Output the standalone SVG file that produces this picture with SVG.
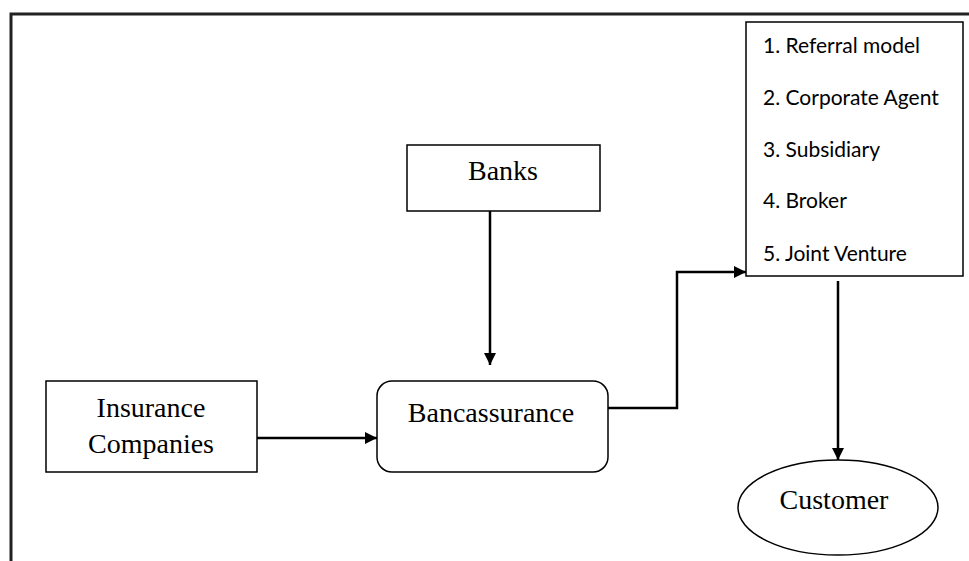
<svg xmlns="http://www.w3.org/2000/svg" width="969" height="561" viewBox="0 0 969 561">
<style>
.box{fill:#fff;stroke:#000;stroke-width:1.5}
.t{font-family:"Liberation Serif","Times New Roman",serif;font-size:28px;fill:#000;text-anchor:middle}
.l{font-family:Lato,"Liberation Sans",sans-serif;font-size:21px;fill:#000}
.c{fill:none;stroke:#000;stroke-width:2.5}
</style>
<defs>
<marker id="ah" markerWidth="12" markerHeight="12" refX="12" refY="6" orient="auto" markerUnits="userSpaceOnUse">
<path d="M0,0 L12,6 L0,12 Z" fill="#000"/>
</marker>
</defs>
<rect width="969" height="561" fill="#fff"/>
<path d="M11,561 V14 H969" fill="none" stroke="#222" stroke-width="3"/>
<g id="connectors">
<line class="c" x1="490" y1="211" x2="490" y2="365" marker-end="url(#ah)"/>
<line class="c" x1="257" y1="438" x2="377" y2="438" marker-end="url(#ah)"/>
<polyline class="c" points="608,408 677,408 677,272 746,272" marker-end="url(#ah)"/>
<line class="c" x1="838" y1="281" x2="838" y2="460" marker-end="url(#ah)"/>
</g>
<g id="banks">
<rect class="box" x="407" y="145" width="193" height="66"/>
<text class="t" x="503" y="180">Banks</text>
</g>
<g id="insurance">
<rect class="box" x="46" y="381" width="211" height="91"/>
<text class="t" x="151" y="417">Insurance</text>
<text class="t" x="151" y="453">Companies</text>
</g>
<g id="bancassurance">
<rect class="box" x="377" y="381" width="231" height="91" rx="15"/>
<text class="t" x="491" y="422">Bancassurance</text>
</g>
<g id="models">
<rect class="box" x="746" y="22" width="217" height="254"/>
<text class="l" x="763" y="53">1. Referral model</text>
<text class="l" x="763" y="105">2. Corporate Agent</text>
<text class="l" x="763" y="157">3. Subsidiary</text>
<text class="l" x="763" y="208">4. Broker</text>
<text class="l" x="763" y="261">5. Joint Venture</text>
</g>
<g id="customer">
<ellipse class="box" cx="838" cy="507.5" rx="100" ry="47.5"/>
<text class="t" x="834" y="509">Customer</text>
</g>
</svg>
